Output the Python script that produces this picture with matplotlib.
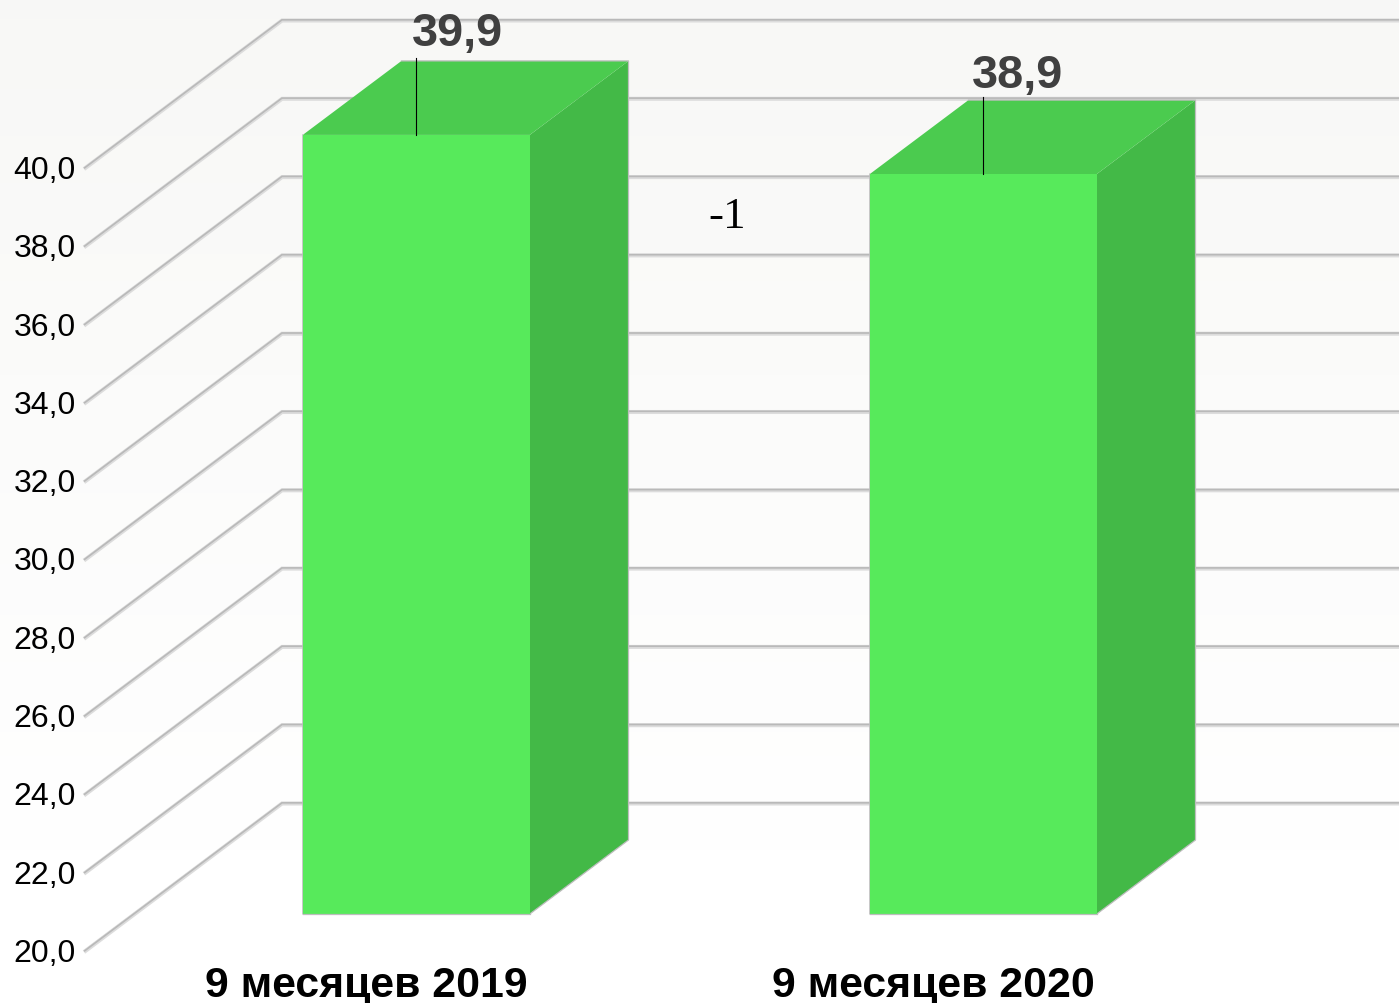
import numpy as np
import matplotlib
matplotlib.use("Agg")
import matplotlib.pyplot as plt
from matplotlib.patches import Polygon

categories = ["9 месяцев 2019", "9 месяцев 2020"]
values = [39.9, 38.9]
value_labels = ["39,9", "38,9"]
tick_values = [20, 22, 24, 26, 28, 30, 32, 34, 36, 38, 40]
tick_labels = ["20,0", "22,0", "24,0", "26,0", "28,0", "30,0", "32,0", "34,0", "36,0", "38,0", "40,0"]
delta_label = "-1"
base_value = 20

W, H = 1399, 1004
PX_X = 567.0        # pixels per category step
PX_Y = 39.15        # pixels per value unit
X0 = 416.3          # pixel of category 0
Y20 = 915.0         # pixel of value 20 on the bar plane


def dx(p):
    return p / PX_X


def dy(p):
    return p / PX_Y


fig = plt.figure(figsize=(W / 100, H / 100), dpi=100)
ax = fig.add_axes([0, 0, 1, 1])
xlim = (-X0 / PX_X, (W - X0) / PX_X)
ylim = (base_value - (H - Y20) / PX_Y, base_value + Y20 / PX_Y)

# background: very light vertical gradient, top row first
grad = np.linspace(0, 1, 256).reshape(-1, 1, 1)
top = np.array([0.972, 0.972, 0.965]).reshape(1, 1, 3)
bottom = np.array([1.0, 1.0, 1.0]).reshape(1, 1, 3)
img = top + (bottom - top) * np.clip(grad / 0.85, 0, 1)
ax.imshow(img, extent=(xlim[0], xlim[1], ylim[0], ylim[1]),
          origin="upper", aspect="auto", zorder=0)
ax.set_xlim(*xlim)
ax.set_ylim(*ylim)
ax.axis("off")

# geometry offsets relative to the bar plane
front_x = dx(84 - X0)
wall_x = dx(282 - X0)
front_y = dy(-38)
wall_y = dy(110.5)
depth_x = dx(98.7)
depth_y = dy(74)
bar_w = dx(227)
right_x = xlim[1]
label_offset = {0: 102, 1: 99.5}

for v, lab in zip(tick_values, tick_labels):
    xs = [front_x, wall_x, right_x]
    ys = [v + front_y, v + wall_y, v + wall_y]
    ax.plot(xs, ys, color="#dcdcdc", lw=2.9, zorder=1, solid_joinstyle="miter", solid_capstyle="butt")
    ax.plot(xs, [y + dy(0.7) for y in ys], color="#b9b9b9", lw=1.2, zorder=2, solid_joinstyle="miter", solid_capstyle="butt")
    ax.text(dx(76 - X0), v + front_y + dy(-1), lab, ha="right", va="center",
            family="Liberation Sans", fontsize=23, color="#000000", zorder=6)

for i, (cat, val, vlab) in enumerate(zip(categories, values, value_labels)):
    l, r = i - bar_w / 2, i + bar_w / 2
    b, t = base_value, val
    ax.add_patch(Polygon([(r, b), (r + depth_x, b + depth_y), (r + depth_x, t + depth_y), (r, t)],
                         closed=True, fc="#43b947", ec="none", zorder=3))
    ax.add_patch(Polygon([(l, t), (r, t), (r + depth_x, t + depth_y), (l + depth_x, t + depth_y)],
                         closed=True, fc="#4bcb4f", ec="none", zorder=3))
    ax.add_patch(Polygon([(l, b), (r, b), (r, t), (l, t)],
                         closed=True, fc="#57ea5b", ec="none", zorder=4))
    # thin light outline
    ax.plot([l, l, r, r + depth_x, r + depth_x, l + depth_x],
            [t, b, b, b + depth_y, t + depth_y, t + depth_y],
            color="#bdbdbd", lw=0.9, zorder=3.5)
    ax.plot([l, r], [b, b], color="#bdbdbd", lw=0.9, zorder=5)
    # leader line and value label
    ax.plot([i, i], [t, t + dy(77)], color="#000000", lw=0.8, zorder=5)
    ax.text(i + dx(41 if i == 0 else 34), t + dy(label_offset[i]), vlab, ha="center", va="center",
            family="Liberation Sans", fontweight="bold", fontsize=33.7, color="#404040", zorder=6)
    ax.text(i + dx(-50), base_value - dy(70.5), cat, ha="center", va="center",
            family="Liberation Sans", fontweight="bold", fontsize=30.8, color="#000000", zorder=6)

ax.text(dx(727 - X0), base_value + dy(Y20 - 216.5), delta_label, ha="center", va="center",
        family="Liberation Serif", fontsize=32.5, color="#000000", zorder=6)

fig.savefig("out.png", dpi=100)
